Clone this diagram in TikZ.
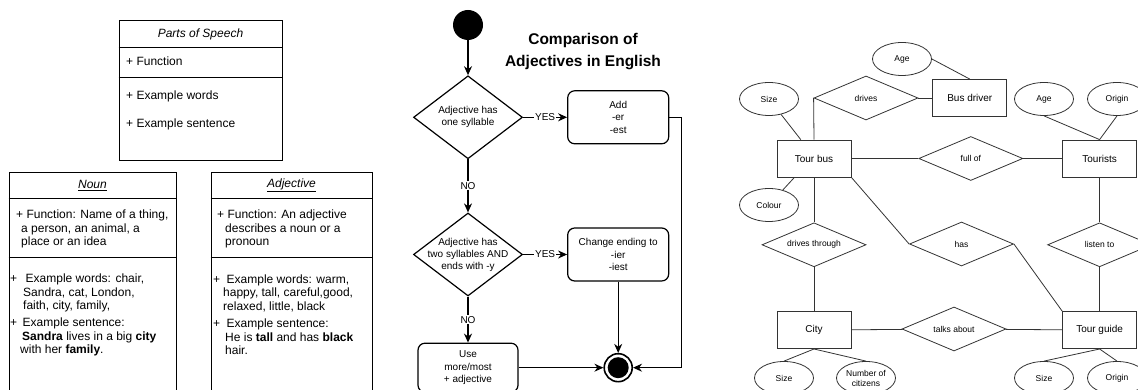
\documentclass[tikz,border=0pt]{standalone}
\usepackage{fontspec}
\setmainfont{Liberation Sans}
\usetikzlibrary{arrows.meta,positioning,shapes.geometric,calc}
\tikzset{
    umlclass/.style={draw, line width=1pt, inner sep=0pt},
    umlline/.style={line width=1pt},
    umltitle/.style={inner sep=0pt, font=\fontsize{12}{13.5}\selectfont\itshape},
    umltext/.style={anchor=west, align=left, inner sep=0pt, font=\fontsize{12}{13.5}\selectfont},
    flowstart/.style={circle, fill=black, minimum size=30pt, inner sep=0pt},
    flowend/.style={circle, draw, line width=1.6pt, fill=white, minimum size=28pt, inner sep=0pt,
        path picture={\fill[black] (path picture bounding box.center) circle (10.5pt);}},
    flowdecision/.style={diamond, draw, line width=1.2pt, minimum width=109pt, minimum height=83pt, inner sep=0pt},
    flowlabel/.style={align=center, inner sep=0pt, font=\fontsize{10}{12}\selectfont},
    flowbox/.style={draw, rounded corners=7pt, line width=1.2pt, minimum width=101pt, minimum height=53pt, align=center, inner sep=0pt, font=\fontsize{10}{12.5}\selectfont},
    flowtitle/.style={align=center, inner sep=0pt, font=\fontsize{15.5}{22}\selectfont\bfseries},
    flowarrow/.style={-{Stealth[length=9pt, width=8pt]}, line width=1.2pt},
    flownote/.style={fill=white, inner sep=1pt, font=\fontsize{10}{12}\selectfont},
    erentity/.style={draw=black!80, line width=0.8pt, minimum width=74pt, minimum height=37pt, inner sep=0pt, font=\fontsize{10}{12}\selectfont},
    errel/.style={diamond, aspect=2.36, draw=black!80, line width=0.8pt, minimum width=104pt, minimum height=44pt, inner sep=0pt, font=\fontsize{8.5}{10.5}\selectfont},
    erattr/.style={ellipse, draw=black!80, line width=0.8pt, minimum width=59pt, minimum height=33pt, inner sep=0pt, align=center, font=\fontsize{8.5}{10}\selectfont},
    erline/.style={draw=black!80, line width=0.8pt}
}

\begin{document}
\begin{tikzpicture}[x=1pt, y=1pt]
        \useasboundingbox (0,0) rectangle (1138,390);
        \clip (0,0) rectangle (1138,390);

        % class boxes
        \node[umlclass, minimum width=163pt, minimum height=140pt] (speech) at (200.5,299) {};
        \draw[umlline] ($(speech.north west)+(0,-27)$) -- ($(speech.north east)+(0,-27)$);
        \draw[umlline] ($(speech.north west)+(0,-57)$) -- ($(speech.north east)+(0,-57)$);
        \node[umltitle] (speechname) at ($(speech.north)+(0,-13.5)$) {Parts of Speech};
        \node[umltext] (speechfunc) at (126,329) {+ Function};
        \node[umltext] (speechwords) at (126,294) {+ Example words};
        \node[umltext] (speechsent) at (126,266) {+ Example sentence};

        \node[umlclass, minimum width=167pt, minimum height=222pt] (noun) at (92.5,106) {};
        \draw[umlline] ($(noun.north west)+(0,-26)$) -- ($(noun.north east)+(0,-26)$);
        \draw[umlline] ($(noun.north west)+(0,-85)$) -- ($(noun.north east)+(0,-85)$);
        \node[umltitle, font=\fontsize{12}{13.5}\selectfont] (nounname) at ($(noun.north)+(0,-13)$) {\underline{\textit{Noun}}};
        \node[umltext] (nounfunc) at (16,161) {+ Function: Name of a thing,\\\hspace{5pt}a person, an animal, a\\\hspace{5pt}place or an idea};
        \node[umltext] (nounwords) at (10,97) {+\hspace{8.5pt}Example words: chair,\\\hspace{13pt}Sandra, cat, London,\\\hspace{13pt}faith, city, family,};
        \node[umltext] (nounsent) at (10,53) {+\hspace{5.5pt}Example sentence:\\\hspace{12pt}\textbf{Sandra} lives in a big \textbf{city}\\\hspace{10pt}with her \textbf{family}.};

        \node[umlclass, minimum width=161pt, minimum height=222pt] (adj) at (291.5,106) {};
        \draw[umlline] ($(adj.north west)+(0,-26)$) -- ($(adj.north east)+(0,-26)$);
        \draw[umlline] ($(adj.north west)+(0,-85)$) -- ($(adj.north east)+(0,-85)$);
        \node[umltitle, font=\fontsize{12}{13.5}\selectfont] (adjname) at ($(adj.north)+(0,-13)$) {\underline{\textit{Adjective}}};
        \node[umltext] (adjfunc) at (217,161) {+ Function: An adjective\\\hspace{8pt}describes a noun or a\\\hspace{8pt}pronoun};
        \node[umltext] (adjwords) at (213,97) {+\hspace{6.5pt}Example words: warm,\\\hspace{10pt}happy, tall, careful,good,\\\hspace{10pt}relaxed, little, black};
        \node[umltext] (adjsent) at (213,53) {+\hspace{6.5pt}Example sentence:\\\hspace{12pt}He is \textbf{tall} and has \textbf{black}\\\hspace{12pt}hair.};

        % flowchart
        \node[flowtitle] (title) at (583,338) {Comparison of\\Adjectives in English};
        \node[flowstart] (start) at (468,365) {};
        \node[flowdecision, below=35pt of start, label={[flowlabel]center:Adjective has\\one syllable}] (onesyl) {};
        \node[flowdecision, below=53pt of onesyl, label={[flowlabel]center:Adjective has\\two syllables AND\\ends with -y}] (twosyl) {};
        \node[flowbox, right=44pt of onesyl] (addest) {Add\\-er\\-est};
        \node[flowbox, right=44pt of twosyl] (iest) {Change ending to\\-ier\\-iest};
        \node[flowbox, below=46pt of twosyl, minimum width=100pt, minimum height=49pt] (more) {Use\\more/most\\+ adjective};
        \node[flowend] (stop) at (iest |- more) {};

        \draw[flowarrow] (start) -- (onesyl);
        \draw[flowarrow] (onesyl) -- node[flownote]{YES} (addest);
        \draw[flowarrow] (onesyl) -- node[flownote]{NO} (twosyl);
        \draw[flowarrow] (twosyl) -- node[flownote]{YES} (iest);
        \draw[flowarrow] (twosyl) -- node[flownote]{NO} (more);
        \draw[flowarrow] (more) -- (stop);
        \draw[flowarrow] (iest) -- (stop);
        \draw[flowarrow] (addest.east) -- ++(12,0) |- (stop.east);

        % entity relationship diagram
        \node[erentity] (tourbus) at (814,231.5) {Tour bus};
        \node[errel, below=45pt of tourbus] (drivesthrough) {drives through};
        \node[erentity, below=44pt of drivesthrough] (city) {City};
        \node[errel, right=67pt of tourbus] (fullof) {full of};
        \node[erentity, right=39pt of fullof] (tourists) {Tourists};
        \node[errel, below=45pt of tourists] (listento) {listen to};
        \node[erentity, below=44pt of listento] (tourguide) {Tour guide};
        \node[errel] (has) at (961.5,146) {has};
        \node[errel] (talksabout) at (954,61) {talks about};
        \node[errel] (drives) at (866,292) {drives};
        \node[erentity, right=14pt of drives] (busdriver) {Bus driver};

        \node[erattr] (agedriver) at (902,331) {Age};
        \node[erattr] (sizebus) at (769,291) {Size};
        \node[erattr] (colour) at (769,185) {Colour};
        \node[erattr] (agetourist) at (1044,291) {Age};
        \node[erattr] (origintourist) at (1117,291) {Origin};
        \node[erattr] (sizecity) at (784,12) {Size};
        \node[erattr] (citizens) at (866,12) {Number of\\citizens};
        \node[erattr] (sizeguide) at (1044,12) {Size};
        \node[erattr] (originguide) at (1117,12) {Origin};

        \draw[erline] (agedriver.east) -- (busdriver.north);
        \draw[erline] (drives) -- (busdriver);
        \draw[erline] (drives.west) -- (tourbus.north);
        \draw[erline] (sizebus) -- (tourbus.125);
        \draw[erline] (colour) -- (tourbus.224);
        \draw[erline] (tourbus) -- (fullof);
        \draw[erline] (fullof) -- (tourists);
        \draw[erline] (agetourist.south) -- (tourists.north);
        \draw[erline] (origintourist.south) -- (tourists.north);
        \draw[erline] (tourbus) -- (drivesthrough);
        \draw[erline] (drivesthrough) -- (city);
        \draw[erline] (tourbus.south east) -- (has.west);
        \draw[erline] (has.east) -- (tourguide.north west);
        \draw[erline] (tourists) -- (listento);
        \draw[erline] (listento) -- (tourguide);
        \draw[erline] (city) -- (talksabout);
        \draw[erline] (talksabout) -- (tourguide);
        \draw[erline] (city.south) -- (sizecity.north);
        \draw[erline] (city.south) -- (citizens.north);
        \draw[erline] (tourguide.south) -- (sizeguide.north);
        \draw[erline] (tourguide.south) -- (originguide.north);
\end{tikzpicture}
\end{document}
